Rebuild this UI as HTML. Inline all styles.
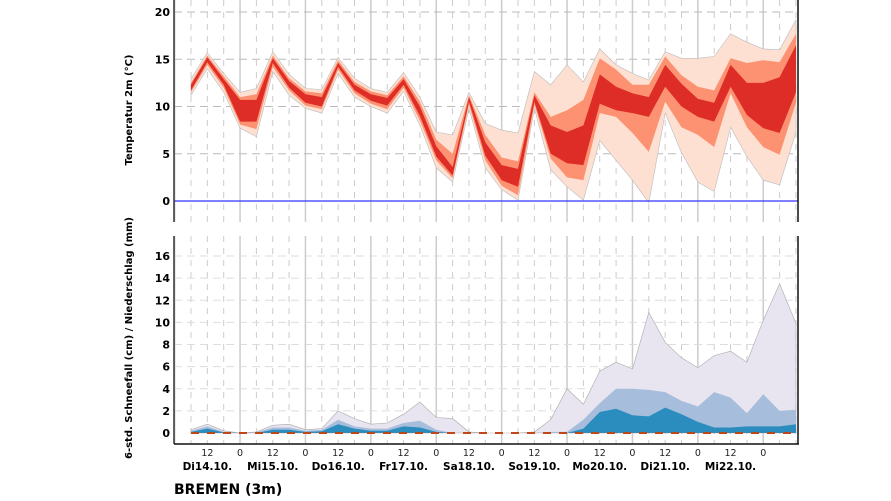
<!DOCTYPE html>
<html><head><meta charset="utf-8"><style>
html,body{margin:0;padding:0;background:#fff;}
svg{display:block;font-family:"DejaVu Sans","Liberation Sans",sans-serif;}
</style></head><body>
<svg id="s" width="891" height="501" viewBox="0 0 891 501" xmlns="http://www.w3.org/2000/svg">
<g id="grid"></g>
<g id="data"></g>
<g id="axes"></g>
<text x="132" y="110" font-size="10" font-weight="bold" text-anchor="middle" transform="rotate(-90 132 110)">Temperatur 2m (°C)</text>
<text x="132" y="338" font-size="10" font-weight="bold" text-anchor="middle" transform="rotate(-90 132 338)">6-std. Schneefall (cm) / Niederschlag (mm)</text>
<text x="174" y="494" font-size="14" font-weight="bold">BREMEN (3m)</text>
</svg>
<script>
const NS="http://www.w3.org/2000/svg";
function el(p,t,a,txt){const e=document.createElementNS(NS,t);for(const k in a)e.setAttribute(k,a[k]);if(txt!==undefined)e.textContent=txt;p.appendChild(e);return e;}
const G=document.getElementById('grid'),D=document.getElementById('data'),A=document.getElementById('axes');
const X=i=>191+16.35*i;
const TY=t=>201-9.45*t;
const PY=v=>433-11.06*v;
const L=174,R=798;
for(let k=-1;k<=38;k++){const x=X(k);if(x<L||x>R)continue;
 if((k-3)%4==0){el(G,'line',{x1:x,x2:x,y1:0,y2:222,stroke:'#ccc','stroke-width':1.5});el(G,'line',{x1:x,x2:x,y1:236,y2:444,stroke:'#ccc','stroke-width':1.5});}
 else{el(G,'line',{x1:x,x2:x,y1:0,y2:222,stroke:'#ccc','stroke-dasharray':'6,6'});el(G,'line',{x1:x,x2:x,y1:236,y2:444,stroke:'#ccc','stroke-dasharray':'6,6'});}
}
for(const t of [5,10,15,20]) el(G,'line',{x1:L,x2:R,y1:TY(t),y2:TY(t),stroke:'#bbb','stroke-dasharray':'8,5'});
for(let v=2;v<=16;v+=2) el(G,'line',{x1:L,x2:R,y1:PY(v),y2:PY(v),stroke:'#ddd','stroke-dasharray':'8,5'});
const T=[[11.2,11.5,11.7,12.3,12.5,12.9],[14,14.4,14.7,15.2,15.4,15.7],[11.5,12,12.3,12.9,13.2,13.5],[7.7,8.1,8.4,10.7,11,11.5],[6.8,7.6,8.4,10.7,11.3,11.9],[13.7,14.2,14.6,15.1,15.4,15.8],[11.2,11.7,12,12.7,13,13.4],[9.8,10.1,10.4,11.3,11.6,11.9],[9.3,9.7,10,11,11.4,11.8],[13.5,13.9,14.2,14.6,14.9,15.2],[11,11.4,11.7,12.3,12.6,13],[10,10.3,10.6,11.3,11.6,11.9],[9.3,9.7,10.1,10.9,11.2,11.5],[11.6,12,12.3,12.9,13.2,13.6],[8,8.5,9,10,10.5,11],[3.5,4.3,4.7,5.8,6.5,7.3],[2,2.4,2.7,3.6,5,7],[9.8,10.2,10.5,11,11.2,11.5],[3.5,4.3,4.8,6.2,7,8.2],[1.2,1.6,2.2,3.8,4.6,7.5],[0.1,0.6,1.5,3.4,4.2,7.2],[9.8,10.2,10.5,11.2,11.5,13.7],[3.3,4.5,5,8,8.9,12.3],[1.5,2.5,4,7.3,9.6,14.4],[0.1,2.2,3.8,8,10.7,12.6],[6.4,9.3,10.3,13.4,15.1,16.1],[4.3,8.9,9.6,12.1,13.9,14.4],[2.2,7.2,9.3,11.4,12.3,13.5],[-0.2,5.2,8.9,11,12.3,12.8],[9.3,10.5,12.1,14.4,15.3,15.8],[5.1,7.8,10,12.4,13.3,15.1],[2,7,8.9,10.8,12.1,15.1],[1,5.7,8.4,10.4,11.7,15.3],[7.8,11.4,12.1,14.4,15.1,17.7],[4.7,7.8,9.1,12.5,14.6,16.8],[2.2,5.7,7.7,12.5,14.9,16.1],[1.7,4.9,7.2,13.1,14.7,16],[7.3,10.4,11.5,16.5,17.7,19.2]];
function band(lo,hi,fy,fill,stroke){let p=[];T.forEach((r,i)=>p.push(X(i).toFixed(1)+','+fy(lo(r,i)).toFixed(1)));for(let i=T.length-1;i>=0;i--)p.push(X(i).toFixed(1)+','+fy(hi(T[i],i)).toFixed(1));const a={points:p.join(' '),fill:fill};if(stroke){a.stroke=stroke;a['stroke-width']=0.6;}el(D,'polygon',a);}
band(r=>r[0],r=>r[5],TY,'#fde0d2','#bbb');
band(r=>r[1],r=>r[4],TY,'#fc9272');
band(r=>r[2],r=>r[3],TY,'#de2d26');
el(D,'line',{x1:L,x2:R,y1:201,y2:201,stroke:'#3333ff','stroke-width':1.3});
const P=[[0.3,0.2,0.1],[0.8,0.6,0.4],[0.2,0.1,0.05],[0,0,0],[0.1,0.05,0],[0.7,0.5,0.3],[0.8,0.5,0.3],[0.3,0.2,0.1],[0.4,0.3,0.15],[2,1.2,0.8],[1.3,0.6,0.4],[0.8,0.4,0.2],[0.9,0.4,0.2],[1.7,0.9,0.6],[2.8,1.1,0.5],[1.4,0.3,0.1],[1.3,0,0],[0.1,0,0],[0,0,0],[0,0,0],[0,0,0],[0.1,0,0],[1.2,0.1,0],[4,0.1,0],[2.6,1.2,0.4],[5.6,2.7,1.9],[6.4,4,2.2],[5.8,4,1.6],[10.9,3.9,1.5],[8.2,3.7,2.3],[6.8,2.9,1.7],[5.9,2.4,1],[7,3.7,0.5],[7.4,3.2,0.5],[6.4,1.8,0.6],[10.2,3.5,0.6],[13.5,2,0.6],[9.9,2.1,0.8]];
function pb(j,fill,stroke){let p=[X(0)+','+PY(0)];P.forEach((r,i)=>p.push(X(i).toFixed(1)+','+PY(r[j]).toFixed(1)));p.push(X(P.length-1)+','+PY(0));const a={points:p.join(' '),fill:fill};if(stroke){a.stroke=stroke;a['stroke-width']=0.6;}el(D,'polygon',a);}
pb(0,'#e8e4f0','#aaa');pb(1,'#a6bddb');pb(2,'#2b8cbe');
el(D,'line',{x1:X(0),x2:R,y1:433,y2:433,stroke:'#c0461b','stroke-width':2,'stroke-dasharray':'8,8'});
el(A,'line',{x1:L,x2:L,y1:0,y2:222,stroke:'#333','stroke-width':1.5});
el(A,'line',{x1:R,x2:R,y1:0,y2:222,stroke:'#111','stroke-width':1.5});
el(A,'line',{x1:L,x2:L,y1:236,y2:444,stroke:'#333','stroke-width':1.5});
el(A,'line',{x1:R,x2:R,y1:236,y2:444,stroke:'#111','stroke-width':1.5});
el(A,'line',{x1:L,x2:R+1,y1:444,y2:444,stroke:'#111','stroke-width':1.5});
for(const t of [0,5,10,15,20]) el(A,'text',{x:170,y:TY(t)+4,'font-size':11,'font-weight':'bold','text-anchor':'end'},String(t));
for(let v=0;v<=16;v+=2) el(A,'text',{x:170,y:PY(v)+4,'font-size':11,'font-weight':'bold','text-anchor':'end'},String(v));
for(let k=1;k<36;k+=2){const x=X(k);el(A,'text',{x:x,y:456,'font-size':9.5,'text-anchor':'middle',fill:'#222'},(k%4==1)?'12':'0');}
const days=['Di14.10.','Mi15.10.','Do16.10.','Fr17.10.','Sa18.10.','So19.10.','Mo20.10.','Di21.10.','Mi22.10.'];
days.forEach((d,j)=>el(A,'text',{x:X(1+4*j),y:470,'font-size':10.5,'font-weight':'bold','text-anchor':'middle'},d));
</script>
</body></html>
